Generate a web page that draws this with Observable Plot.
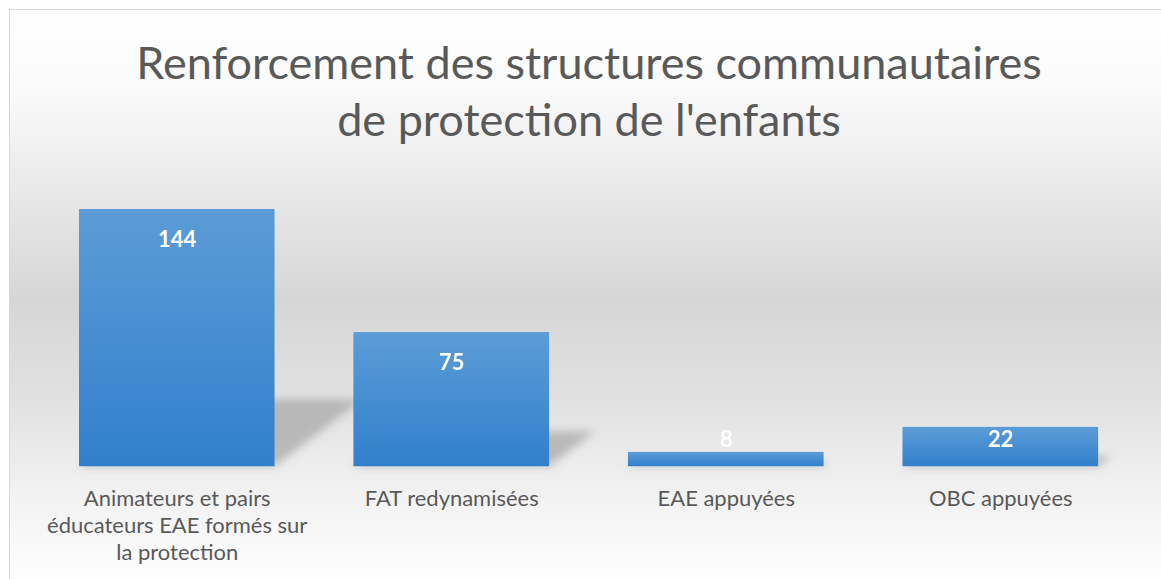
<!DOCTYPE html>
<html><head><meta charset="utf-8">
<script src="https://cdn.jsdelivr.net/npm/d3@7"></script>
<script src="https://cdn.jsdelivr.net/npm/@observablehq/plot@0.6"></script>
<style>
html,body{margin:0;padding:0;background:#fff;overflow:hidden;width:1161px;height:579px}
#chart{position:absolute;left:9px;top:9px;width:1160px;height:580px;border:1px solid #d9d9d9;box-sizing:border-box;
 background:linear-gradient(to bottom,#ffffff 0%,#fafafa 14%,#e5e5e5 35%,#d6d6d6 50%,#e0e0e0 66%,#f2f2f2 84%,#ffffff 100%)}
#title{position:absolute;left:0;top:24px;width:100%;text-align:center;font-family:Lato,sans-serif;font-size:45px;color:#595959;line-height:57px;margin:0;font-weight:normal}
#plot{position:absolute;left:0;top:0}
#plot svg{overflow:visible}
</style></head>
<body>
<div id="chart">
  <h1 id="title">Renforcement des structures communautaires<br>de protection de l'enfants</h1>
  <div id="plot"></div>
</div>
<script>
const categories = ["Animateurs et pairs éducateurs EAE formés sur la protection", "FAT redynamisées", "EAE appuyées", "OBC appuyées"];
const values = [144, 75, 8, 22];
const tickLabels = ["Animateurs et pairs\néducateurs EAE formés sur\nla protection", "FAT redynamisées", "EAE appuyées", "OBC appuyées"];

const data = categories.map((c, i) => ({category: c, value: values[i]}));

const plot = Plot.plot({
  width: 1160, height: 570,
  marginLeft: 29.5, marginRight: 30.5, marginTop: 199, marginBottom: 113,
  style: {background: "transparent", fontFamily: "Lato, sans-serif", overflow: "visible"},
  x: {domain: categories, paddingInner: 0.287, paddingOuter: 0.1435, axis: null},
  y: {domain: [0, 144], axis: null},
  marks: [
    Plot.barY(data, {x: "category", y: "value", fill: "url(#barGrad)"}),
    Plot.text(data, {x: "category", y: d => Math.max(d.value - 17, 15), text: d => String(d.value),
      fill: "white", fontWeight: "bold", fontSize: 22}),
    Plot.axisX({tickSize: 0, tickPadding: 20.5, fontSize: 22, lineHeight: 1.23, lineAnchor: "top", label: null,
      tickFormat: c => tickLabels[categories.indexOf(c)], fill: "#595959"})
  ]
});
document.getElementById("plot").appendChild(plot);

const svg = d3.select(plot);
const defs = svg.insert("defs", ":first-child");
const g = defs.append("linearGradient").attr("id", "barGrad").attr("x1", 0).attr("y1", 0).attr("x2", 0).attr("y2", 1);
g.append("stop").attr("offset", "0%").attr("stop-color", "#5c9cd7");
g.append("stop").attr("offset", "100%").attr("stop-color", "#3180cc");
defs.append("filter").attr("id", "shadowBlur").attr("x", "-20%").attr("y", "-20%").attr("width", "140%").attr("height", "140%")
  .append("feGaussianBlur").attr("stdDeviation", 4);

const barG = svg.select('g[aria-label="bar"]');
const shadowG = svg.insert("g", 'g[aria-label="bar"]').attr("filter", "url(#shadowBlur)");
barG.selectAll("rect").each(function() {
  const r = d3.select(this);
  const x = +r.attr("x"), y = +r.attr("y"), w = +r.attr("width"), h = +r.attr("height");
  const b = y + h, dx = 0.34 * h, dy = 0.26 * h;
  shadowG.append("polygon")
    .attr("points", [[x, b], [x + w, b], [x + w + dx, b - dy], [x + dx, b - dy]].map(p => p.join(",")).join(" "))
    .attr("fill", "#a8a8a8").attr("opacity", 0.75);
});
</script>
</body></html>
